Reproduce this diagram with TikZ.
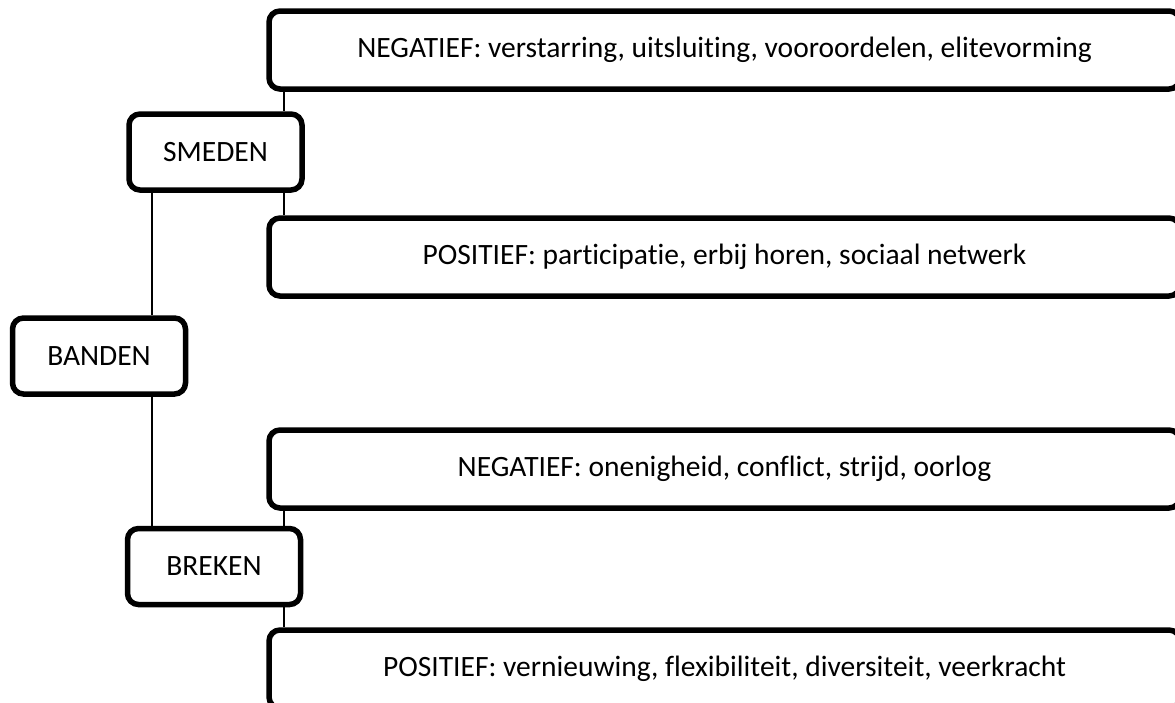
\documentclass[tikz,border=0pt]{standalone}
\usepackage{fontspec}
\setmainfont{Carlito}[Ligatures={NoCommon}]
\begin{document}
\begin{tikzpicture}[x=1pt,y=-1pt,
  box/.style={draw, line width=5.5pt, rounded corners=11pt, fill=white,
    font=\fontsize{29.5}{33}\selectfont, inner sep=0pt},
  leftbox/.style={box, minimum width=173pt, minimum height=76pt},
  rightbox/.style={box, minimum width=911pt, minimum height=78pt},
  link/.style={line width=2.2pt}]
\useasboundingbox (0,0) rectangle (1175,702);
\clip (0,0) rectangle (1175,702);
\coordinate (xr) at (284,0);
\coordinate (xl) at (152,0);
\node[rightbox] (neg1) at (724.5,50) {NEGATIEF: verstarring, uitsluiting, vooroordelen, elitevorming};
\node[leftbox] (smeden) at (215.5,152) {SMEDEN};
\node[rightbox] (pos1) at (724.5,257) {POSITIEF: participatie, erbij horen, sociaal netwerk};
\node[leftbox] (banden) at (99,356) {BANDEN};
\node[rightbox] (neg2) at (724.5,469) {NEGATIEF: onenigheid, conflict, strijd, oorlog};
\node[leftbox] (breken) at (214,566.5) {BREKEN};
\node[rightbox] (pos2) at (724.5,669) {POSITIEF: vernieuwing, flexibiliteit, diversiteit, veerkracht};
\draw[link] (neg1.south -| xr) -- (smeden.north -| xr);
\draw[link] (smeden.south -| xr) -- (pos1.north -| xr);
\draw[link] (smeden.south -| xl) -- (banden.north -| xl);
\draw[link] (banden.south -| xl) -- (breken.north -| xl);
\draw[link] (neg2.south -| xr) -- (breken.north -| xr);
\draw[link] (breken.south -| xr) -- (pos2.north -| xr);
\end{tikzpicture}
\end{document}
